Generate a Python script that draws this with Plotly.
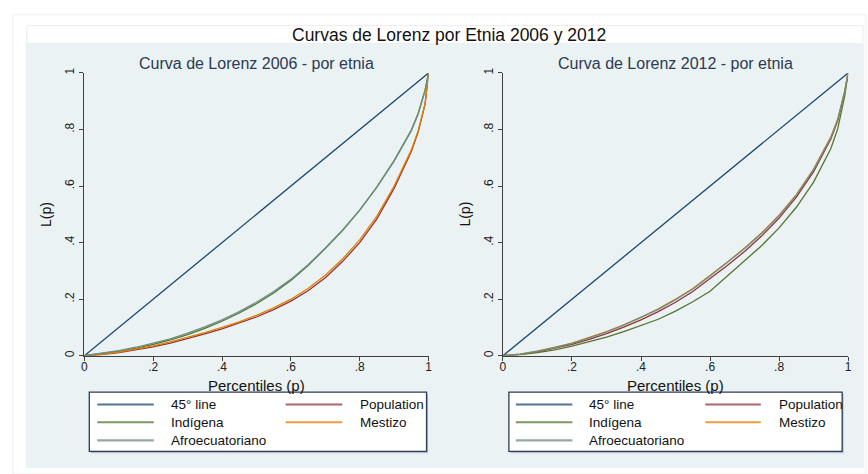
import plotly.graph_objects as go

# ---------------- data ----------------
p = [0, .05, .10, .15, .20, .25, .30, .35, .40, .45, .50, .55, .60, .65,
     .70, .75, .80, .85, .90, .95, .97, .99, 1]
line45 = p

series_names = ["Population", "Indígena", "Mestizo", "Afroecuatoriano"]

# 2006
pop_2006 = [0, .004, .011, .020, .031, .045, .060, .077, .095, .115, .137, .163, .193,
            .230, .276, .333, .400, .484, .592, .722, .792, .890, 1]
ind_2006 = [0, .007, .016, .027, .040, .056, .075, .097, .122, .151, .184, .222, .266,
            .319, .379, .443, .515, .597, .690, .798, .858, .940, 1]
mes_2006 = [0, .005, .013, .023, .035, .049, .065, .082, .100, .120, .143, .169, .200,
            .238, .285, .342, .410, .494, .600, .728, .796, .892, 1]
afr_2006 = [0, .008, .018, .030, .044, .060, .080, .102, .127, .156, .189, .227, .270,
            .322, .381, .444, .515, .596, .688, .796, .855, .938, 1]

# 2012
pop_2012 = [0, .005, .014, .026, .040, .058, .078, .101, .127, .156, .189, .227, .272,
            .319, .369, .424, .487, .561, .651, .767, .832, .932, 1]
ind_2012 = [0, .004, .011, .021, .034, .049, .066, .085, .106, .129, .158, .191, .228,
            .282, .333, .390, .452, .525, .614, .733, .803, .918, 1]
mes_2012 = [0, .006, .016, .029, .045, .064, .085, .109, .136, .166, .200, .238, .284,
            .331, .381, .435, .497, .570, .660, .774, .837, .935, 1]
afr_2012 = [0, .006, .016, .029, .044, .063, .084, .108, .135, .164, .198, .236, .282,
            .329, .379, .433, .495, .568, .658, .772, .835, .934, 1]

tick_vals = [0, .2, .4, .6, .8, 1]
tick_text = ["0", ".2", ".4", ".6", ".8", "1"]

main_title = "Curvas de Lorenz por Etnia 2006 y 2012"
sub_titles = ["Curva de Lorenz 2006 - por etnia", "Curva de Lorenz 2012 - por etnia"]
x_title = "Percentiles (p)"
y_title = "L(p)"

# ---------------- style ----------------
W, H = 868, 474
FONT = "Liberation Sans, Arial, sans-serif"
C45 = "#1a476f"
CPOP = "#90353b"
CIND = "#55752f"
CMES = "#e37e00"
CAFR = "#6e8e84"
BG = "#eaf2f3"
AX = "#404040"


def fx(px):
    return px / W


def fy(py):
    return 1 - py / H


fig = go.Figure()

panels = [
    ("x", "y", [pop_2006, ind_2006, mes_2006, afr_2006]),
    ("x2", "y2", [pop_2012, ind_2012, mes_2012, afr_2012]),
]
colors = [CPOP, CIND, CMES, CAFR]
for xa, ya, data in panels:
    fig.add_trace(go.Scatter(x=p, y=line45, mode="lines", name="45° line",
                             line=dict(color=C45, width=1.3), xaxis=xa, yaxis=ya,
                             showlegend=False))
    for nm, vals, col in zip(series_names, data, colors):
        fig.add_trace(go.Scatter(x=p, y=vals, mode="lines", name=nm,
                                 line=dict(color=col, width=1.3), xaxis=xa, yaxis=ya,
                                 showlegend=False))

# plot areas (pixels)
L1, R1 = 82, 429
L2, R2 = 504, 852
T, B = 69, 356

axis_common = dict(
    range=[0, 1], tickvals=tick_vals, ticktext=tick_text, ticks="outside",
    ticklen=4, tickwidth=1, tickcolor=AX, showline=True, linecolor=AX, linewidth=1.3,
    zeroline=False, tickfont=dict(family=FONT, size=12, color="#222"),
    fixedrange=True,
)
xcommon = dict(axis_common, showgrid=False, ticklabelstandoff=-4)
ycommon = dict(axis_common, showgrid=True, gridcolor=BG, gridwidth=1, tickangle=-90)

fig.update_layout(
    width=W, height=H,
    margin=dict(l=0, r=0, t=0, b=0),
    paper_bgcolor="white", plot_bgcolor="white",
    showlegend=False,
    xaxis=dict(xcommon, domain=[fx(L1), fx(R1)], anchor="y"),
    yaxis=dict(ycommon, domain=[fy(B), fy(T)], anchor="x"),
    xaxis2=dict(xcommon, domain=[fx(L2), fx(R2)], anchor="y2"),
    yaxis2=dict(ycommon, domain=[fy(B), fy(T)], anchor="x2"),
)

shapes = []
# outer faint frame
shapes.append(dict(type="rect", xref="paper", yref="paper", x0=fx(10), x1=fx(W + 2),
                   y0=fy(H + 2), y1=fy(10), line=dict(color="#f0f0f0", width=1),
                   fillcolor="white", layer="below"))
# title box
shapes.append(dict(type="rect", xref="paper", yref="paper", x0=fx(24), x1=fx(867),
                   y0=fy(39), y1=fy(21), line=dict(color="#ececec", width=1),
                   fillcolor="white", layer="below"))
# graph region
shapes.append(dict(type="rect", xref="paper", yref="paper", x0=fx(23), x1=fx(868),
                   y0=fy(470), y1=fy(39), line=dict(width=0),
                   fillcolor=BG, layer="below"))

annotations = [
    dict(text=main_title, x=fx(450), y=fy(30), xref="paper", yref="paper",
         showarrow=False, xanchor="center", yanchor="middle",
         font=dict(family=FONT, size=17.5, color="#111")),
]
for (l, r), st in zip([(L1, R1), (L2, R2)], sub_titles):
    annotations.append(dict(text=st, x=fx((l + r) / 2), y=fy(59), xref="paper",
                            yref="paper", showarrow=False, xanchor="center",
                            yanchor="middle",
                            font=dict(family=FONT, size=16, color="#2b3a55")))
    annotations.append(dict(text=x_title, x=fx((l + r) / 2), y=fy(377), xref="paper",
                            yref="paper", showarrow=False, xanchor="center",
                            yanchor="top", borderpad=0,
                            font=dict(family=FONT, size=15, color="#111")))
    annotations.append(dict(text=y_title, x=fx(l - 38), y=fy((T + B) / 2), xref="paper",
                            yref="paper", showarrow=False, xanchor="center",
                            yanchor="middle", textangle=-90,
                            font=dict(family=FONT, size=14, color="#111")))

# manual legends (two columns, three rows) for each panel
legend_items = [("45° line", C45), ("Population", CPOP), ("Indígena", CIND),
                ("Mestizo", CMES), ("Afroecuatoriano", CAFR)]
legend_boxes = [
    dict(x0=87, x1=427, c1=(95, 152, 167), c2=(285, 342, 358)),
    dict(x0=510, x1=846, c1=(517, 574, 589), c2=(708, 764, 780)),
]
rows = [405.5, 423.5, 442]
for lb in legend_boxes:
    # shadow
    shapes.append(dict(type="rect", xref="paper", yref="paper", x0=fx(lb["x0"] + 1.5),
                       x1=fx(lb["x1"] + 1.5), y0=fy(455), y1=fy(394.5),
                       line=dict(width=0), fillcolor="#b8c2cc", layer="below"))
    shapes.append(dict(type="rect", xref="paper", yref="paper", x0=fx(lb["x0"]),
                       x1=fx(lb["x1"]), y0=fy(453), y1=fy(393),
                       line=dict(color="#2f3b56", width=1.3), fillcolor="white",
                       layer="below"))
    for i, (nm, col) in enumerate(legend_items):
        r = rows[i // 2]
        c = lb["c1"] if i % 2 == 0 else lb["c2"]
        shapes.append(dict(type="line", xref="paper", yref="paper", x0=fx(c[0]),
                           x1=fx(c[1]), y0=fy(r), y1=fy(r),
                           line=dict(color=col, width=2.2), opacity=0.75, layer="above"))
        annotations.append(dict(text=nm, x=fx(c[2]), y=fy(r), xref="paper", yref="paper",
                                showarrow=False, xanchor="left", yanchor="middle",
                                font=dict(family=FONT, size=13.5, color="#111")))

fig.update_layout(shapes=shapes, annotations=annotations)
fig.write_html(
    "out.html",
    config={"displayModeBar": False},
    post_script="document.body.style.margin='0px';document.body.style.overflow='hidden';",
)
